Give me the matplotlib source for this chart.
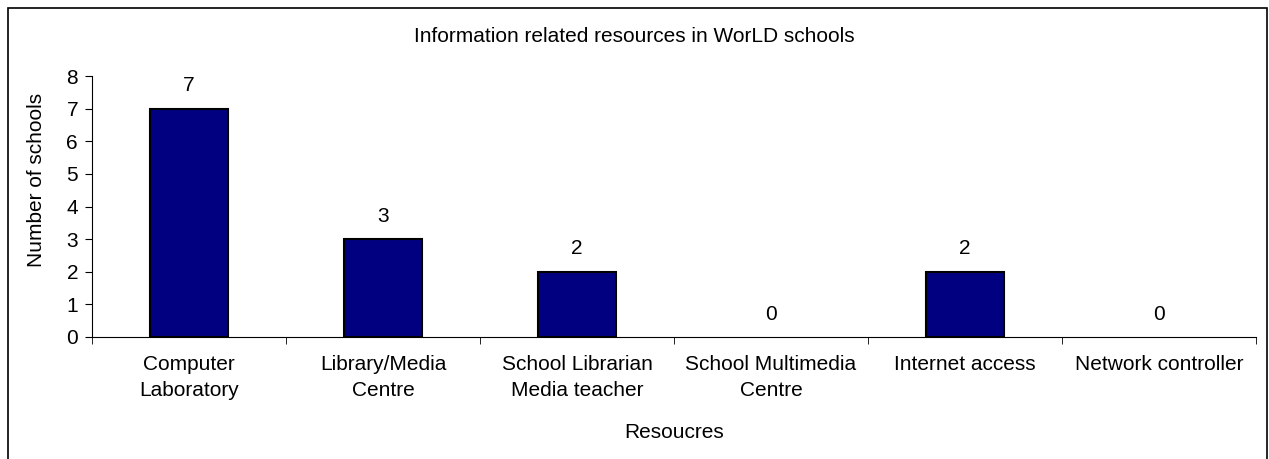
import matplotlib.pyplot as plt
from matplotlib.patches import Rectangle

categories = ["Computer\nLaboratory", "Library/Media\nCentre", "School Librarian\nMedia teacher",
              "School Multimedia\nCentre", "Internet access", "Network controller"]
counts = [7, 3, 2, 0, 2, 0]

plt.rcParams['font.family'] = ['Liberation Sans', 'DejaVu Sans']
plt.rcParams['font.size'] = 15

fig = plt.figure(figsize=(12.69, 4.59), dpi=100)
ax = fig.add_axes([0.0725, 0.2658, 0.9173, 0.5686])

x = list(range(len(categories)))
ax.bar(x, counts, width=0.4, color='#000080', edgecolor='black',
       linewidth=[1.5 if v else 0 for v in counts])
for xi, v in zip(x, counts):
    ax.text(xi, v + 0.7, str(v), ha='center', va='center', fontsize=15)

ax.set_xlim(-0.5, 5.5)
ax.set_ylim(0, 8)
ax.set_yticks(range(0, 9))
ax.set_xticks(x)
ax.set_xticklabels(categories, linespacing=1.45)
ax.set_xticks([i - 0.5 for i in range(len(categories) + 1)], minor=True)
ax.tick_params(axis='x', which='major', length=0, pad=13)
ax.tick_params(axis='x', which='minor', length=5, direction='out')
ax.tick_params(axis='y', length=5, direction='out', labelsize=15, pad=5)
ax.spines['top'].set_visible(False)
ax.spines['right'].set_visible(False)

fig.text(37 / 1269, 1 - 180 / 459, 'Number of schools', rotation=90,
         ha='center', va='center', fontsize=15)
fig.text((0.0725 + 0.9898) / 2, 1 - 432 / 459, 'Resoucres', ha='center', va='center', fontsize=15)
fig.text(0.5, 1 - 37 / 459, 'Information related resources in WorLD schools', ha='center', va='center', fontsize=15)

# chart border
fig.patches.append(Rectangle((8 / 1269, -0.05), 1259 / 1269, 1 - 8 / 459 + 0.05,
                             transform=fig.transFigure, fill=False, edgecolor='black', linewidth=1.2))

fig.savefig('out.png', dpi=100)
